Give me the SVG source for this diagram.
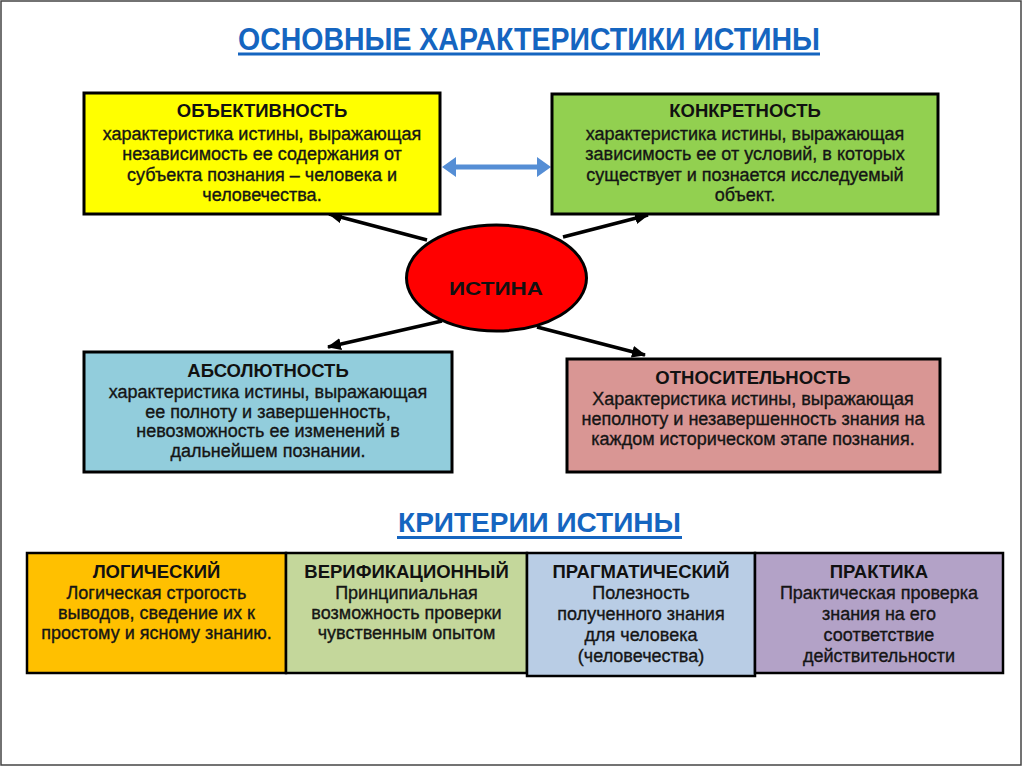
<svg xmlns="http://www.w3.org/2000/svg" width="1024" height="768" viewBox="0 0 1024 768">
<defs>
<marker id="ah" markerUnits="userSpaceOnUse" markerWidth="14" markerHeight="12" refX="13" refY="6" orient="auto">
<path d="M0,0 L14,6 L0,12 Z" fill="#000"/>
</marker>
<style>
.box{stroke:#000;stroke-width:3}
.cell{stroke:#000;stroke-width:2.5}
.t{font-family:"Liberation Sans",Arial,sans-serif;font-weight:bold;font-size:18.5px;fill:#111;text-anchor:middle}
.b{font-family:"Liberation Sans",Arial,sans-serif;font-size:18px;fill:#151515;stroke:#151515;stroke-width:0.35px;text-anchor:middle}
.h{font-family:"Liberation Sans",Arial,sans-serif;font-weight:bold;fill:#1565c0;text-anchor:middle}
.c{stroke:#000;stroke-width:3.5;fill:none;marker-end:url(#ah)}
</style>
</defs>
<rect x="0" y="0" width="1024" height="768" fill="#fff"/>
<rect x="1" y="1" width="1020" height="764" fill="none" stroke="#444" stroke-width="1.5"/>

<g id="title">
<text class="h" x="529" y="50" font-size="31" textLength="582" lengthAdjust="spacingAndGlyphs">ОСНОВНЫЕ ХАРАКТЕРИСТИКИ ИСТИНЫ</text>
<rect x="238" y="52.5" width="582" height="3" fill="#1565c0"/>
</g>

<g id="connectors">
<line class="c" x1="427" y1="240" x2="329" y2="214"/>
<line class="c" x1="563" y1="237" x2="648" y2="215"/>
<line class="c" x1="442" y1="321" x2="328" y2="347"/>
<line class="c" x1="537" y1="327" x2="645" y2="355"/>
<polygon points="442,167 456,157 456,164.5 537,164.5 537,157 551,167 537,177 537,169.5 456,169.5 456,177" fill="#558ed5"/>
</g>

<g id="objectivity">
<rect class="box" x="84" y="93" width="356" height="121" fill="#ffff00"/>
<text class="t" x="262" y="117">ОБЪЕКТИВНОСТЬ</text>
<text class="b" x="262" y="140">характеристика истины, выражающая</text>
<text class="b" x="262" y="160">независимость ее содержания от</text>
<text class="b" x="262" y="181">субъекта познания – человека и</text>
<text class="b" x="262" y="201">человечества.</text>
</g>

<g id="concreteness">
<rect class="box" x="552" y="94" width="386" height="120" fill="#92d050"/>
<text class="t" x="745" y="117">КОНКРЕТНОСТЬ</text>
<text class="b" x="745" y="140">характеристика истины, выражающая</text>
<text class="b" x="745" y="160">зависимость ее от условий, в которых</text>
<text class="b" x="745" y="181">существует и познается исследуемый</text>
<text class="b" x="745" y="201">объект.</text>
</g>

<g id="truth">
<ellipse cx="496.5" cy="278" rx="90" ry="53" fill="#ff0000" stroke="#000" stroke-width="3"/>
<text class="t" x="496" y="294.5" font-size="24" fill="#1a0a0a" textLength="94" lengthAdjust="spacingAndGlyphs">ИСТИНА</text>
</g>

<g id="absoluteness">
<rect class="box" x="84" y="352" width="368" height="120" fill="#92cddc"/>
<text class="t" x="268" y="377">АБСОЛЮТНОСТЬ</text>
<text class="b" x="268" y="398">характеристика истины, выражающая</text>
<text class="b" x="268" y="418">ее полноту и завершенность,</text>
<text class="b" x="268" y="437">невозможность ее изменений в</text>
<text class="b" x="268" y="457">дальнейшем познании.</text>
</g>

<g id="relativity">
<rect class="box" x="567" y="359" width="373" height="113" fill="#d99694"/>
<text class="t" x="753" y="384">ОТНОСИТЕЛЬНОСТЬ</text>
<text class="b" x="753" y="405">Характеристика истины, выражающая</text>
<text class="b" x="753" y="425">неполноту и незавершенность знания на</text>
<text class="b" x="753" y="445">каждом историческом этапе познания.</text>
</g>

<g id="criteria-title">
<text class="h" x="539.5" y="532" font-size="28">КРИТЕРИИ ИСТИНЫ</text>
<rect x="397" y="536" width="285" height="3" fill="#1565c0"/>
</g>

<g id="logical">
<rect class="cell" x="27" y="553" width="259" height="120" fill="#ffc000"/>
<text class="t" x="156.5" y="578">ЛОГИЧЕСКИЙ</text>
<text class="b" x="156.5" y="599">Логическая строгость</text>
<text class="b" x="156.5" y="619">выводов, сведение их к</text>
<text class="b" x="156.5" y="639">простому и ясному знанию.</text>
</g>

<g id="verification">
<rect class="cell" x="286" y="553" width="241" height="120" fill="#c4d79b"/>
<text class="t" x="406.5" y="578">ВЕРИФИКАЦИОННЫЙ</text>
<text class="b" x="406.5" y="599">Принципиальная</text>
<text class="b" x="406.5" y="619">возможность проверки</text>
<text class="b" x="406.5" y="639">чувственным опытом</text>
</g>

<g id="pragmatic">
<rect class="cell" x="527" y="553" width="228" height="123" fill="#b9cde5"/>
<text class="t" x="641" y="578">ПРАГМАТИЧЕСКИЙ</text>
<text class="b" x="641" y="599">Полезность</text>
<text class="b" x="641" y="620">полученного знания</text>
<text class="b" x="641" y="641">для человека</text>
<text class="b" x="641" y="662">(человечества)</text>
</g>

<g id="practice">
<rect class="cell" x="755" y="553" width="248" height="120" fill="#b3a2c7"/>
<text class="t" x="879" y="578">ПРАКТИКА</text>
<text class="b" x="879" y="599">Практическая проверка</text>
<text class="b" x="879" y="620">знания на его</text>
<text class="b" x="879" y="641">соответствие</text>
<text class="b" x="879" y="662">действительности</text>
</g>
</svg>
